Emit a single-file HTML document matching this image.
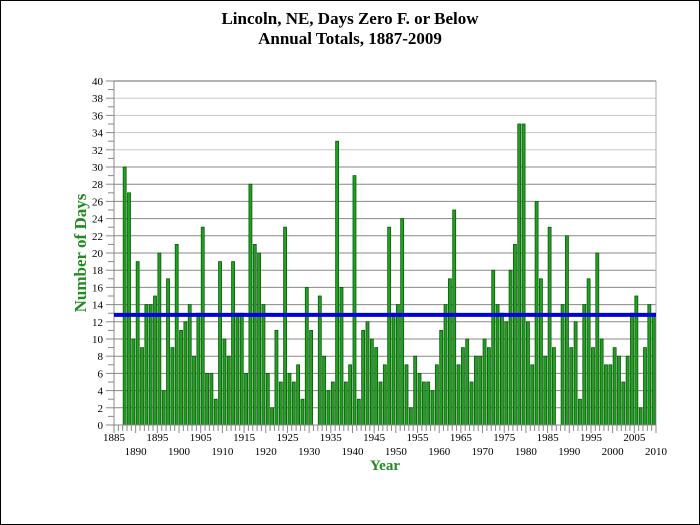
<!DOCTYPE html>
<html><head><meta charset="utf-8"><style>
html,body{margin:0;padding:0;background:#fff}
svg{display:block}
</style></head><body>
<svg id="c" width="700" height="525" xmlns="http://www.w3.org/2000/svg" font-family="Liberation Serif, serif">
<rect x="0.5" y="0.5" width="699" height="524" fill="#fff" stroke="#000"/>
<text x="350" y="24" text-anchor="middle" font-size="17" font-weight="bold">Lincoln, NE, Days Zero F. or Below</text>
<text x="350" y="44" text-anchor="middle" font-size="17" font-weight="bold">Annual Totals, 1887-2009</text>
<text x="385" y="470" text-anchor="middle" font-size="15" font-weight="bold" fill="#228B22">Year</text>
<text transform="translate(86,253) rotate(-90)" text-anchor="middle" font-size="17" font-weight="bold" fill="#228B22">Number of Days</text>
<g id="g"></g>
</svg>
<script>
var d=[30,27,10,19,9,14,14,15,20,4,17,9,21,11,12,14,8,13,23,6,6,3,19,10,8,19,13,13,6,28,21,20,14,6,2,11,5,23,6,5,7,3,16,11,0,15,8,4,5,33,16,5,7,29,3,11,12,10,9,5,7,23,13,14,24,7,2,8,6,5,5,4,7,11,14,17,25,7,9,10,5,8,8,10,9,18,14,13,12,18,21,35,35,12,7,26,17,8,23,9,0,14,22,9,12,3,14,17,9,20,10,7,7,9,8,5,8,13,15,2,9,14,13];
var L=114,R=656,T=81,B=425,s='';
function X(y){return L+(y-1885)*(R-L)/125}
function Y(v){return B-v*(B-T)/40}
for(var v=0;v<=40;v+=2){var y=Y(v);s+='<line x1="'+L+'" x2="'+R+'" y1="'+y+'" y2="'+y+'" stroke="'+(v>=32?'#c8c8c8':'#888')+'" stroke-width="1"/>';
s+='<text x="103" y="'+(y+4)+'" text-anchor="end" font-size="11">'+v+'</text>';
s+='<line x1="'+(L-8)+'" x2="'+L+'" y1="'+y+'" y2="'+y+'" stroke="#888"/>';
if(v<40){var y2=Y(v+1);s+='<line x1="'+(L-6)+'" x2="'+L+'" y1="'+y2+'" y2="'+y2+'" stroke="#888"/>';}}
s+='<line x1="'+L+'" x2="'+L+'" y1="'+T+'" y2="'+B+'" stroke="#888"/>';
s+='<line x1="'+R+'" x2="'+R+'" y1="'+T+'" y2="'+B+'" stroke="#aaa"/>';
s+='<line x1="'+L+'" x2="'+R+'" y1="'+T+'" y2="'+T+'" stroke="#999" stroke-width="1.5"/>';
for(var i=0;i<d.length;i++){var x=X(1887+i),h=d[i]*(B-T)/40;if(h>0)s+='<rect x="'+(x+0.5)+'" y="'+(B-h)+'" width="3" height="'+h+'" fill="#22a022" stroke="#0a5a0a" stroke-width="0.8"/>';}
s+='<line x1="'+L+'" x2="'+R+'" y1="'+B+'" y2="'+B+'" stroke="#888"/>';
for(var yr=1885;yr<=2010;yr++){var x=X(yr);s+='<line x1="'+x+'" x2="'+x+'" y1="'+B+'" y2="'+(B+(yr%5==0?8:6))+'" stroke="#888"/>';
if(yr%10==5)s+='<text x="'+x+'" y="'+(B+16)+'" text-anchor="middle" font-size="11">'+yr+'</text>';
else if(yr%10==0)s+='<text x="'+x+'" y="'+(B+30)+'" text-anchor="middle" font-size="11">'+yr+'</text>';}
s+='<line x1="'+L+'" x2="'+R+'" y1="'+Y(12.8)+'" y2="'+Y(12.8)+'" stroke="#0000dd" stroke-width="4"/>';
document.getElementById('g').innerHTML=s;
</script>
</body></html>
